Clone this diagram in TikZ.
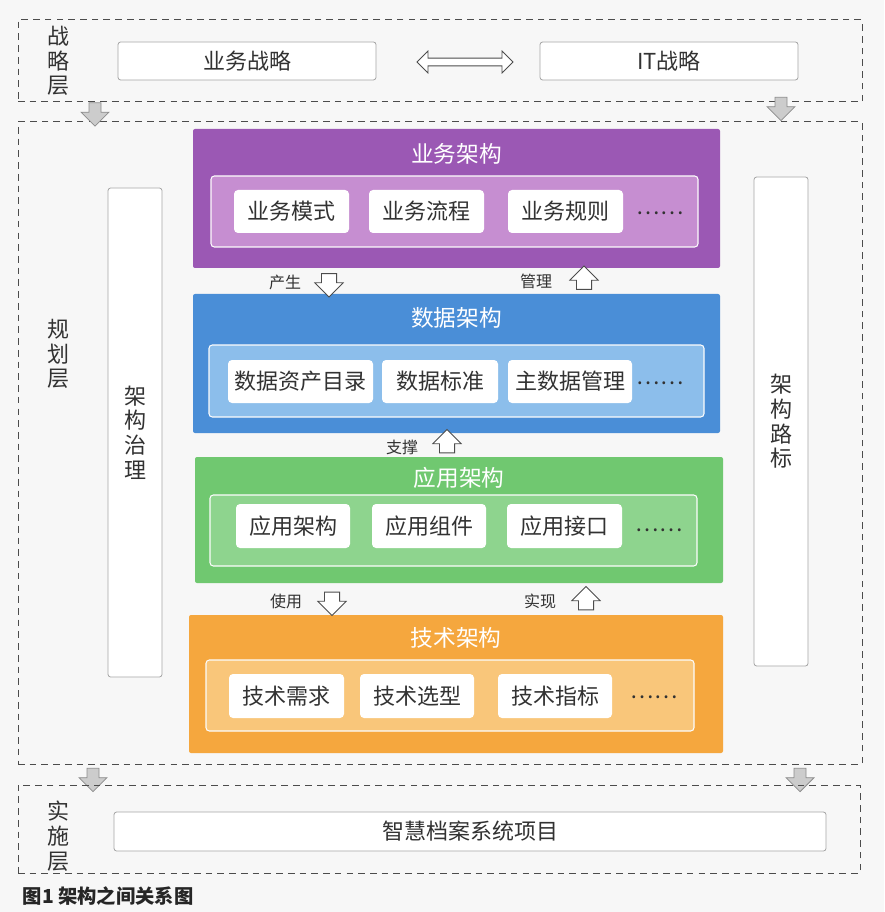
\documentclass[tikz,border=0pt]{standalone}
\usepackage{fontspec}
\setmainfont{Noto Sans CJK SC}
\usetikzlibrary{shapes.arrows}

\definecolor{purpleA}{RGB}{155,88,180}
\definecolor{purpleB}{RGB}{198,142,209}
\definecolor{blueA}{RGB}{74,142,215}
\definecolor{blueB}{RGB}{140,190,235}
\definecolor{greenA}{RGB}{112,200,112}
\definecolor{greenB}{RGB}{142,212,142}
\definecolor{orangeA}{RGB}{245,167,62}
\definecolor{orangeB}{RGB}{249,198,122}
\definecolor{ink}{RGB}{50,50,50}

\newcommand\itemfont{\fontsize{16.5}{18}\selectfont}
\newcommand\headfont{\fontsize{17}{19}\selectfont}
\newcommand\vfont{\fontsize{16.5}{18.5}\selectfont}
\newcommand\tagfont{\fontsize{12}{14}\selectfont}
\newcommand\capfont{\fontsize{14.5}{16}\selectfont}

\tikzset{
  wh/.style 2 args={minimum width=#1*0.75pt, minimum height=#2*0.75pt},
  dashbox/.style={draw=black!70, line width=0.75pt, dash pattern=on 5pt off 3.8pt, inner sep=0},
  plainbox/.style={draw=black!35, fill=white, rounded corners=2pt, line width=0.6pt, font=\itemfont, text=ink},
  layerbox/.style={rounded corners=1.5pt, inner sep=0},
  innerbox/.style={draw=white!75!black!5, line width=0.8pt, rounded corners=2.5pt, inner sep=0},
  itembox/.style={fill=white, rounded corners=3pt, inner sep=0, font=\itemfont, text=ink},
  layertitle/.style={text=white, font=\headfont},
  dotstext/.style={font=\itemfont, text=ink},
  vtext/.style={align=center, font=\vfont, text=ink},
  linktag/.style={font=\tagfont, text=ink},
  dnarrow/.style={single arrow, draw=black!70, fill=white, line width=0.6pt, shape border rotate=270,
    inner ysep=0, inner xsep=5.4pt, single arrow head extend=4.9pt, minimum height=17.5pt},
  uparrow/.style={dnarrow, shape border rotate=90},
  grayarrow/.style={single arrow, draw=black!45, fill=black!20, line width=0.6pt, shape border rotate=270,
    inner ysep=0, inner xsep=4.2pt, single arrow head extend=6pt, minimum height=17.5pt}
}

\begin{document}
\begin{tikzpicture}[x=0.75pt, y=-0.75pt]
\fill[white!97!black] (0,0) rectangle (884,912);

% strategy layer
\node[dashbox, wh={844}{82}] (strat) at (440,61) {};
\node[vtext] (stratlabel) at (58,61) {战\\略\\层};
\node[plainbox, wh={258}{38}] (bizstrat) at (247,61) {业务战略};
\node[plainbox, wh={258}{38}] (itstrat) at (669,61) {IT战略};
\node[double arrow, draw=black!70, fill=white, line width=0.6pt, inner xsep=0, inner ysep=2.6pt,
  double arrow head extend=5.3pt, minimum height=72pt] (both) at (465,62) {};

% planning layer
\node[dashbox, wh={844}{642}] (plan) at (440,443) {};
\node[vtext] (planlabel) at (58,354) {规\\划\\层};
\node[plainbox, wh={54}{489}, font=\vfont, align=center] (govern) at (135,432.5)
  {\baselineskip=18.75pt 架\\构\\治\\理};
\node[plainbox, wh={54}{489}, font=\vfont, align=center] (roadmap) at (781,421.5)
  {\baselineskip=18.75pt 架\\构\\路\\标};

\node[layerbox, fill=purpleA, wh={527}{139}] (bizarch) at (456.5,198.5) {};
\node[layertitle] (bizhead) at (456.5,154) {业务架构};
\node[innerbox, fill=purpleB, wh={487}{71}] (bizin) at (454.5,211.5) {};
\node[itembox, wh={115}{43}] (biz1) at (291.5,211.5) {业务模式};
\node[itembox, wh={115}{43}] (biz2) at (426.5,211.5) {业务流程};
\node[itembox, wh={115}{43}] (biz3) at (565.5,211.5) {业务规则};
\node[dotstext] (bizdots) at (660,213) {……};

\node[layerbox, fill=blueA, wh={527}{139}] (dataarch) at (456.5,363.5) {};
\node[layertitle] (datahead) at (456.5,318) {数据架构};
\node[innerbox, fill=blueB, wh={495}{72}] (datain) at (456.5,381) {};
\node[itembox, wh={145}{43}] (data1) at (300.5,381.5) {数据资产目录};
\node[itembox, wh={116}{43}] (data2) at (440,381.5) {数据标准};
\node[itembox, wh={124}{43}] (data3) at (570,381.5) {主数据管理};
\node[dotstext] (datadots) at (660,383) {……};

\node[layerbox, fill=greenA, wh={528}{126}] (apparch) at (459,520) {};
\node[layertitle] (apphead) at (459,478) {应用架构};
\node[innerbox, fill=greenB, wh={487}{71}] (appin) at (453.5,530.5) {};
\node[itembox, wh={114}{44}] (app1) at (293,526) {应用架构};
\node[itembox, wh={114}{44}] (app2) at (429,526) {应用组件};
\node[itembox, wh={115}{44}] (app3) at (564.5,526) {应用接口};
\node[dotstext] (appdots) at (659,530) {……};

\node[layerbox, fill=orangeA, wh={534}{138}] (techarch) at (456,684) {};
\node[layertitle] (techhead) at (456,638) {技术架构};
\node[innerbox, fill=orangeB, wh={488}{71}] (techin) at (450,695.5) {};
\node[itembox, wh={115}{44}] (tech1) at (286.5,696) {技术需求};
\node[itembox, wh={114}{44}] (tech2) at (417,696) {技术选型};
\node[itembox, wh={114}{44}] (tech3) at (555,696) {技术指标};
\node[dotstext] (techdots) at (654,697) {……};

% links between layers
\node[dnarrow] (produce) at (329,281.5) {};
\node[linktag] (producetag) at (285,282) {产生};
\node[uparrow] (manage) at (584,281.5) {};
\node[linktag] (managetag) at (536,281) {管理};
\node[uparrow] (support) at (447,445) {};
\node[linktag] (supporttag) at (402,447) {支撑};
\node[dnarrow] (use) at (332,600) {};
\node[linktag] (usetag) at (286,601) {使用};
\node[uparrow] (realize) at (586,602) {};
\node[linktag] (realizetag) at (540,601) {实现};

% flow between the dashed layers
\node[grayarrow] (down1) at (95,111.5) {};
\node[grayarrow] (down2) at (781,106) {};
\node[grayarrow] (down3) at (93,777) {};
\node[grayarrow] (down4) at (800,777) {};

% implementation layer
\node[dashbox, wh={842}{88}] (impl) at (439,829) {};
\node[vtext] (impllabel) at (58,836) {实\\施\\层};
\node[plainbox, wh={712}{39}] (project) at (470,831.5) {智慧档案系统项目};

\node[anchor=west, font=\capfont\bfseries, text=black!85] (caption) at (18,896) {图1 架构之间关系图};
\end{tikzpicture}
\end{document}
